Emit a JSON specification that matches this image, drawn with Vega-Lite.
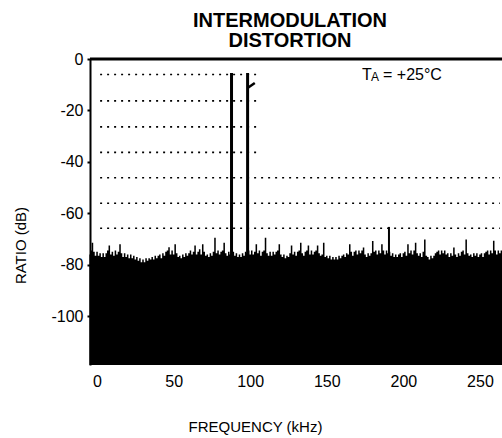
{
  "$schema": "https://vega.github.io/schema/vega-lite/v6.json",
  "width": 412,
  "height": 306,
  "autosize": {"type": "none"},
  "padding": {"left": 90, "top": 59, "right": 0, "bottom": 73},
  "background": "white",
  "config": {"view": {"stroke": null}, "font": "Liberation Sans"},
  "title": {
    "text": ["INTERMODULATION", "DISTORTION"],
    "fontSize": 20,
    "fontWeight": "bold",
    "font": "Liberation Sans",
    "lineHeight": 20,
    "offset": 0,
    "dx": -6,
    "color": "black",
    "anchor": "middle"
  },
  "datasets": {
    "noise": [
      {"f": -5, "db": -76}, {"f": -4, "db": -74.5}, {"f": -3, "db": -71.5}, {"f": -2, "db": -75}, {"f": -1, "db": -76.5},
      {"f": 0, "db": -75}, {"f": 1, "db": -76.5}, {"f": 2, "db": -75.5}, {"f": 3, "db": -77}, {"f": 4, "db": -75.5},
      {"f": 5, "db": -77}, {"f": 6, "db": -75.5}, {"f": 7, "db": -74.5}, {"f": 8, "db": -72.5}, {"f": 9, "db": -76},
      {"f": 10, "db": -75}, {"f": 11, "db": -76.5}, {"f": 12, "db": -74.5}, {"f": 13, "db": -76}, {"f": 14, "db": -75},
      {"f": 15, "db": -72}, {"f": 16, "db": -75.5}, {"f": 17, "db": -77}, {"f": 18, "db": -75.5}, {"f": 19, "db": -77},
      {"f": 20, "db": -76}, {"f": 21, "db": -77.5}, {"f": 22, "db": -76}, {"f": 23, "db": -77.5}, {"f": 24, "db": -76.5},
      {"f": 25, "db": -78}, {"f": 26, "db": -77}, {"f": 27, "db": -78.5}, {"f": 28, "db": -77.5}, {"f": 29, "db": -79},
      {"f": 30, "db": -78}, {"f": 31, "db": -79}, {"f": 32, "db": -77.5}, {"f": 33, "db": -78.5}, {"f": 34, "db": -77.5},
      {"f": 35, "db": -78}, {"f": 36, "db": -77}, {"f": 37, "db": -78}, {"f": 38, "db": -76.5}, {"f": 39, "db": -77.5},
      {"f": 40, "db": -76.5}, {"f": 41, "db": -76}, {"f": 42, "db": -77.5}, {"f": 43, "db": -75.5}, {"f": 44, "db": -76.5},
      {"f": 45, "db": -75}, {"f": 46, "db": -74.5}, {"f": 47, "db": -73.2}, {"f": 48, "db": -76}, {"f": 49, "db": -74.5},
      {"f": 50, "db": -76}, {"f": 51, "db": -72}, {"f": 52, "db": -75.5}, {"f": 53, "db": -77}, {"f": 54, "db": -76.5},
      {"f": 55, "db": -77.5}, {"f": 56, "db": -76}, {"f": 57, "db": -77}, {"f": 58, "db": -75.5}, {"f": 59, "db": -76.5},
      {"f": 60, "db": -75.5}, {"f": 61, "db": -74.5}, {"f": 62, "db": -76}, {"f": 63, "db": -75}, {"f": 64, "db": -72.5},
      {"f": 65, "db": -76}, {"f": 66, "db": -75}, {"f": 67, "db": -74}, {"f": 68, "db": -76}, {"f": 69, "db": -72},
      {"f": 70, "db": -75}, {"f": 71, "db": -76.5}, {"f": 72, "db": -76}, {"f": 73, "db": -77}, {"f": 74, "db": -75.5},
      {"f": 75, "db": -76.5}, {"f": 76, "db": -75}, {"f": 77, "db": -69.5}, {"f": 78, "db": -75.5}, {"f": 79, "db": -74.5},
      {"f": 80, "db": -76}, {"f": 81, "db": -75}, {"f": 82, "db": -74.5}, {"f": 83, "db": -71.5}, {"f": 84, "db": -75.5},
      {"f": 85, "db": -76.5}, {"f": 86, "db": -75}, {"f": 87, "db": -76}, {"f": 88, "db": -75.5}, {"f": 89, "db": -75},
      {"f": 90, "db": -76.5}, {"f": 91, "db": -75.5}, {"f": 92, "db": -77}, {"f": 93, "db": -76}, {"f": 94, "db": -77},
      {"f": 95, "db": -75.5}, {"f": 96, "db": -76.5}, {"f": 97, "db": -75}, {"f": 98, "db": -75.5}, {"f": 99, "db": -74.5},
      {"f": 100, "db": -76}, {"f": 101, "db": -74.5}, {"f": 102, "db": -76}, {"f": 103, "db": -75}, {"f": 104, "db": -72},
      {"f": 105, "db": -75.5}, {"f": 106, "db": -74.5}, {"f": 107, "db": -76.5}, {"f": 108, "db": -75}, {"f": 109, "db": -74.5},
      {"f": 110, "db": -69.5}, {"f": 111, "db": -75.5}, {"f": 112, "db": -76.5}, {"f": 113, "db": -75}, {"f": 114, "db": -76.5},
      {"f": 115, "db": -75}, {"f": 116, "db": -76}, {"f": 117, "db": -75}, {"f": 118, "db": -74.5}, {"f": 119, "db": -72},
      {"f": 120, "db": -76}, {"f": 121, "db": -77}, {"f": 122, "db": -76}, {"f": 123, "db": -77.5}, {"f": 124, "db": -76.5},
      {"f": 125, "db": -77}, {"f": 126, "db": -75.5}, {"f": 127, "db": -72.5}, {"f": 128, "db": -76}, {"f": 129, "db": -75},
      {"f": 130, "db": -76.5}, {"f": 131, "db": -75}, {"f": 132, "db": -74.5}, {"f": 133, "db": -71.5}, {"f": 134, "db": -75.5},
      {"f": 135, "db": -76.5}, {"f": 136, "db": -75}, {"f": 137, "db": -74.5}, {"f": 138, "db": -72.5}, {"f": 139, "db": -76},
      {"f": 140, "db": -74.5}, {"f": 141, "db": -76}, {"f": 142, "db": -75}, {"f": 143, "db": -74.5}, {"f": 144, "db": -72.5},
      {"f": 145, "db": -75.5}, {"f": 146, "db": -76.5}, {"f": 147, "db": -76}, {"f": 148, "db": -71.5}, {"f": 149, "db": -77},
      {"f": 150, "db": -76.5}, {"f": 151, "db": -77.5}, {"f": 152, "db": -76.5}, {"f": 153, "db": -78}, {"f": 154, "db": -77},
      {"f": 155, "db": -78}, {"f": 156, "db": -77}, {"f": 157, "db": -78}, {"f": 158, "db": -76.5}, {"f": 159, "db": -77.5},
      {"f": 160, "db": -76.5}, {"f": 161, "db": -76}, {"f": 162, "db": -77}, {"f": 163, "db": -75.5}, {"f": 164, "db": -76},
      {"f": 165, "db": -72}, {"f": 166, "db": -75}, {"f": 167, "db": -76.5}, {"f": 168, "db": -75}, {"f": 169, "db": -74.5},
      {"f": 170, "db": -76}, {"f": 171, "db": -74.5}, {"f": 172, "db": -75.5}, {"f": 173, "db": -74.5}, {"f": 174, "db": -73.3},
      {"f": 175, "db": -76}, {"f": 176, "db": -77}, {"f": 177, "db": -75.5}, {"f": 178, "db": -76.5}, {"f": 179, "db": -75.5},
      {"f": 180, "db": -70.8}, {"f": 181, "db": -75}, {"f": 182, "db": -74.5}, {"f": 183, "db": -76}, {"f": 184, "db": -74.5},
      {"f": 185, "db": -75.5}, {"f": 186, "db": -72}, {"f": 187, "db": -74.5}, {"f": 188, "db": -76}, {"f": 189, "db": -74.5},
      {"f": 190, "db": -75.5}, {"f": 191, "db": -75}, {"f": 192, "db": -76.5}, {"f": 193, "db": -75.5}, {"f": 194, "db": -77},
      {"f": 195, "db": -76}, {"f": 196, "db": -77}, {"f": 197, "db": -76}, {"f": 198, "db": -75.5}, {"f": 199, "db": -77},
      {"f": 200, "db": -75.5}, {"f": 201, "db": -75}, {"f": 202, "db": -76.5}, {"f": 203, "db": -72}, {"f": 204, "db": -75.5},
      {"f": 205, "db": -74.5}, {"f": 206, "db": -76}, {"f": 207, "db": -74.5}, {"f": 208, "db": -71.5}, {"f": 209, "db": -75.5},
      {"f": 210, "db": -76.5}, {"f": 211, "db": -75.5}, {"f": 212, "db": -77}, {"f": 213, "db": -75}, {"f": 214, "db": -70.2},
      {"f": 215, "db": -76.5}, {"f": 216, "db": -77}, {"f": 217, "db": -78}, {"f": 218, "db": -76.5}, {"f": 219, "db": -77.5},
      {"f": 220, "db": -76.5}, {"f": 221, "db": -75.5}, {"f": 222, "db": -75}, {"f": 223, "db": -74.5}, {"f": 224, "db": -76},
      {"f": 225, "db": -74.5}, {"f": 226, "db": -75.5}, {"f": 227, "db": -74.5}, {"f": 228, "db": -76}, {"f": 229, "db": -75.5},
      {"f": 230, "db": -77}, {"f": 231, "db": -75.5}, {"f": 232, "db": -76.5}, {"f": 233, "db": -73.3}, {"f": 234, "db": -76},
      {"f": 235, "db": -77}, {"f": 236, "db": -75.5}, {"f": 237, "db": -76.5}, {"f": 238, "db": -75}, {"f": 239, "db": -74.5},
      {"f": 240, "db": -76}, {"f": 241, "db": -70.2}, {"f": 242, "db": -75.5}, {"f": 243, "db": -76.5}, {"f": 244, "db": -76},
      {"f": 245, "db": -77}, {"f": 246, "db": -75.5}, {"f": 247, "db": -76.5}, {"f": 248, "db": -75.5}, {"f": 249, "db": -77},
      {"f": 250, "db": -76}, {"f": 251, "db": -75.5}, {"f": 252, "db": -77}, {"f": 253, "db": -75.5}, {"f": 254, "db": -75},
      {"f": 255, "db": -74.5}, {"f": 256, "db": -76}, {"f": 257, "db": -74.5}, {"f": 258, "db": -75.5}, {"f": 259, "db": -70.7},
      {"f": 260, "db": -74.5}, {"f": 261, "db": -76}, {"f": 262, "db": -74.5}, {"f": 263, "db": -75.5}, {"f": 264, "db": -74.5},
      {"f": 264.4, "db": -74.5}
    ],
    "tones": [{"f": 87.8, "db": -5.4}, {"f": 98.3, "db": -5.4}],
    "spur": [{"f": 190.6, "db": -65.3}],
    "hook": [{"f": 98.3, "db": -11.3}, {"f": 103, "db": -9.3}],
    "grid": [
      {"db": -6, "f": 2, "f2": 106.5},
      {"db": -16.3, "f": 2, "f2": 106.5},
      {"db": -26.4, "f": 2, "f2": 106.5},
      {"db": -36.3, "f": 2, "f2": 106.5},
      {"db": -46.2, "f": 2, "f2": 263},
      {"db": -56.1, "f": 2, "f2": 263},
      {"db": -65.8, "f": 2, "f2": 263}
    ],
    "border": [{"db": 0}],
    "labelT": [{"label": "T"}],
    "labelA": [{"label": "A"}],
    "labelRest": [{"label": "= +25°C"}]
  },
  "layer": [
    {
      "data": {"name": "noise"},
      "mark": {"type": "area", "color": "black", "interpolate": "step", "opacity": 1},
      "encoding": {
        "x": {
          "field": "f",
          "type": "quantitative",
          "scale": {"domain": [-4.6, 264.4], "nice": false, "zero": false},
          "axis": {
            "title": "FREQUENCY (kHz)",
            "values": [0, 50, 100, 150, 200, 250],
            "domain": false,
            "ticks": false,
            "grid": false,
            "labelPadding": 8,
            "labelFontSize": 16,
            "labelColor": "black",
            "labelFont": "Liberation Sans",
            "titleFont": "Liberation Sans",
            "titleFontSize": 15,
            "titleFontWeight": "normal",
            "titleColor": "black",
            "titleX": 165,
            "titleY": 61,
            "titleBaseline": "middle",
            "titleAlign": "center"
          }
        },
        "y": {
          "field": "db",
          "type": "quantitative",
          "scale": {"domain": [-119, 0], "nice": false, "zero": false},
          "axis": {
            "title": "RATIO (dB)",
            "values": [0, -20, -40, -60, -80, -100],
            "labelExpr": "'' + datum.value",
            "domain": true,
            "domainColor": "black",
            "domainWidth": 2,
            "ticks": true,
            "tickSize": 3,
            "tickWidth": 2,
            "tickColor": "black",
            "grid": false,
            "labelPadding": 4,
            "labelFontSize": 16,
            "labelColor": "black",
            "labelFont": "Liberation Sans",
            "titleFont": "Liberation Sans",
            "titleFontSize": 15,
            "titleFontWeight": "normal",
            "titleColor": "black",
            "titleX": -70,
            "titleY": 186,
            "titleBaseline": "middle",
            "titleAlign": "center",
            "titleAngle": 270
          }
        },
        "y2": {"datum": -119}
      }
    },
    {
      "data": {"name": "grid"},
      "mark": {"type": "rule", "color": "black", "strokeWidth": 1.6, "strokeDash": [2, 5]},
      "encoding": {
        "x": {"field": "f", "type": "quantitative"},
        "x2": {"field": "f2"},
        "y": {"field": "db", "type": "quantitative"}
      }
    },
    {
      "data": {"name": "tones"},
      "mark": {"type": "rule", "color": "black", "strokeWidth": 3},
      "encoding": {
        "x": {"field": "f", "type": "quantitative"},
        "y": {"field": "db", "type": "quantitative"},
        "y2": {"datum": -119}
      }
    },
    {
      "data": {"name": "spur"},
      "mark": {"type": "rule", "color": "black", "strokeWidth": 2},
      "encoding": {
        "x": {"field": "f", "type": "quantitative"},
        "y": {"field": "db", "type": "quantitative"},
        "y2": {"datum": -119}
      }
    },
    {
      "data": {"name": "hook"},
      "mark": {"type": "line", "color": "black", "strokeWidth": 2.5},
      "encoding": {
        "x": {"field": "f", "type": "quantitative"},
        "y": {"field": "db", "type": "quantitative"}
      }
    },
    {
      "data": {"name": "border"},
      "mark": {"type": "rule", "color": "black", "strokeWidth": 3},
      "encoding": {
        "y": {"field": "db", "type": "quantitative"}
      }
    },
    {
      "data": {"name": "labelT"},
      "mark": {"type": "text", "align": "left", "baseline": "alphabetic", "fontSize": 16, "font": "Liberation Sans", "color": "black"},
      "encoding": {
        "x": {"datum": 173, "type": "quantitative"},
        "y": {"datum": -8.2, "type": "quantitative"},
        "text": {"field": "label"}
      }
    },
    {
      "data": {"name": "labelA"},
      "mark": {"type": "text", "align": "left", "baseline": "alphabetic", "fontSize": 12, "font": "Liberation Sans", "color": "black", "dx": 9, "dy": 1},
      "encoding": {
        "x": {"datum": 173, "type": "quantitative"},
        "y": {"datum": -8.2, "type": "quantitative"},
        "text": {"field": "label"}
      }
    },
    {
      "data": {"name": "labelRest"},
      "mark": {"type": "text", "align": "left", "baseline": "alphabetic", "fontSize": 16, "font": "Liberation Sans", "color": "black", "dx": 21},
      "encoding": {
        "x": {"datum": 173, "type": "quantitative"},
        "y": {"datum": -8.2, "type": "quantitative"},
        "text": {"field": "label"}
      }
    }
  ]
}
